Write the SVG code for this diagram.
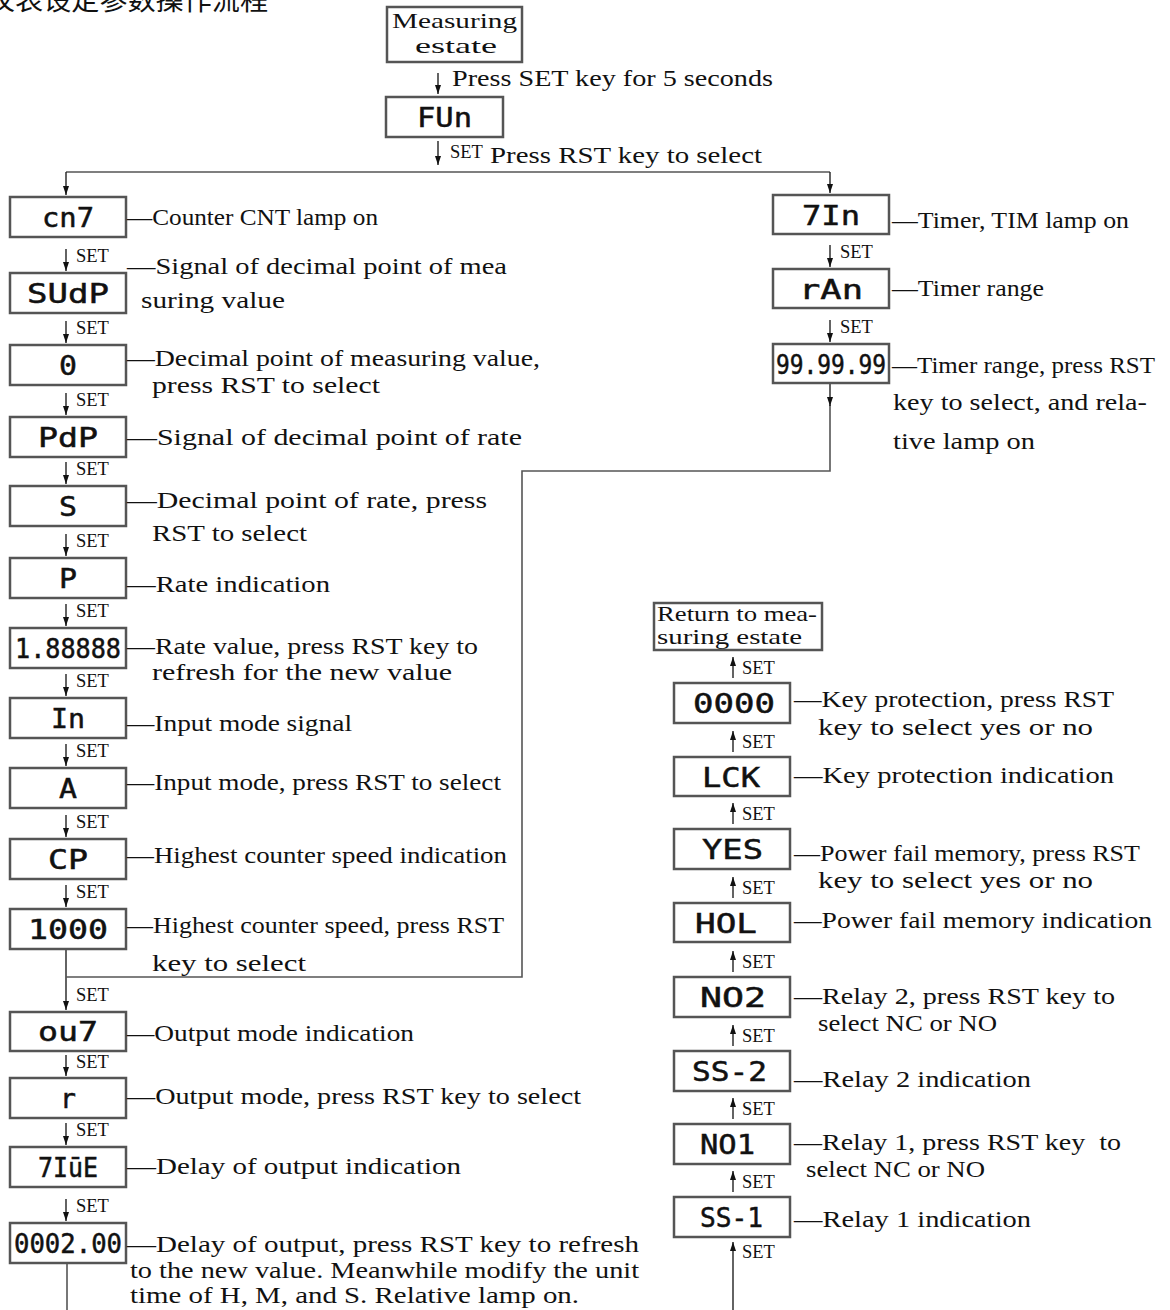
<svg xmlns="http://www.w3.org/2000/svg" width="1170" height="1310" viewBox="0 0 1170 1310">
<style>
.box{fill:#fff;stroke:#555;stroke-width:2.5}
.seg{font-family:"DejaVu Sans Mono",monospace;font-weight:normal;font-size:27px;fill:#111;stroke:#111;stroke-width:0.5}
.lbl{font-family:"Liberation Serif",serif;font-size:23px;fill:#111}
.big{font-family:"Liberation Serif",serif;font-size:22px;fill:#111}
.ret{font-family:"Liberation Serif",serif;font-size:21px;fill:#111}
.set{font-family:"Liberation Serif",serif;font-size:18.5px;fill:#111}
.ln{fill:none;stroke:#555;stroke-width:1.6}
.ar{fill:none;stroke:#222;stroke-width:1.4;marker-end:url(#ah)}
.cjk{font-family:"Noto Sans CJK SC",sans-serif;font-size:27px;fill:#111}
</style>
<defs>
<marker id="ah" viewBox="0 0 9 6" refX="9" refY="3" markerWidth="9" markerHeight="6" markerUnits="userSpaceOnUse" orient="auto"><path d="M0,0 L9,3 L0,6 Z" fill="#111"/></marker>
</defs>
<rect width="1170" height="1310" fill="#fff"/>
<text class="cjk" x="-13" y="10" textLength="281" lengthAdjust="spacingAndGlyphs">仪表设定参数操作流程</text>

<g id="connectors">
<line class="ar" x1="438" y1="73" x2="438" y2="94"/>
<text class="lbl" x="452" y="86" textLength="321" lengthAdjust="spacingAndGlyphs">Press SET key for 5 seconds</text>
<line class="ar" x1="438" y1="141" x2="438" y2="165"/>
<text class="set" x="450" y="158">SET</text>
<text class="lbl" x="490" y="163" textLength="272" lengthAdjust="spacingAndGlyphs">Press RST key to select</text>
<polyline class="ln" points="66,172 830,172"/>
<line class="ar" x1="66" y1="172" x2="66" y2="195"/>
<line class="ar" x1="830" y1="172" x2="830" y2="193"/>

<line class="ar" x1="66" y1="249" x2="66" y2="271"/><text class="set" x="76" y="262">SET</text>
<line class="ar" x1="66" y1="321" x2="66" y2="343"/><text class="set" x="76" y="334">SET</text>
<line class="ar" x1="66" y1="393" x2="66" y2="415"/><text class="set" x="76" y="406">SET</text>
<line class="ar" x1="66" y1="462" x2="66" y2="484"/><text class="set" x="76" y="475">SET</text>
<line class="ar" x1="66" y1="534" x2="66" y2="556"/><text class="set" x="76" y="547">SET</text>
<line class="ar" x1="66" y1="604" x2="66" y2="626"/><text class="set" x="76" y="617">SET</text>
<line class="ar" x1="66" y1="674" x2="66" y2="696"/><text class="set" x="76" y="687">SET</text>
<line class="ar" x1="66" y1="744" x2="66" y2="766"/><text class="set" x="76" y="757">SET</text>
<line class="ar" x1="66" y1="815" x2="66" y2="837"/><text class="set" x="76" y="828">SET</text>
<line class="ar" x1="66" y1="885" x2="66" y2="907"/><text class="set" x="76" y="898">SET</text>
<line class="ar" x1="66" y1="949" x2="66" y2="1010"/><text class="set" x="76" y="1001">SET</text>
<line class="ar" x1="66" y1="1055" x2="66" y2="1076"/><text class="set" x="76" y="1068">SET</text>
<line class="ar" x1="66" y1="1123" x2="66" y2="1145"/><text class="set" x="76" y="1136">SET</text>
<line class="ar" x1="66" y1="1199" x2="66" y2="1221"/><text class="set" x="76" y="1212">SET</text>
<line class="ln" x1="67" y1="1263" x2="67" y2="1310"/>

<polyline class="ln" points="66,977 522,977 522,471 830,471 830,405"/>
<line class="ar" x1="830" y1="384" x2="830" y2="406"/>

<line class="ar" x1="830" y1="245" x2="830" y2="267"/><text class="set" x="840" y="258">SET</text>
<line class="ar" x1="830" y1="320" x2="830" y2="342"/><text class="set" x="840" y="333">SET</text>

<line class="ar" x1="733" y1="678" x2="733" y2="657"/><text class="set" x="742" y="674">SET</text>
<line class="ar" x1="733" y1="752" x2="733" y2="731"/><text class="set" x="742" y="748">SET</text>
<line class="ar" x1="733" y1="824" x2="733" y2="803"/><text class="set" x="742" y="820">SET</text>
<line class="ar" x1="733" y1="898" x2="733" y2="877"/><text class="set" x="742" y="894">SET</text>
<line class="ar" x1="733" y1="972" x2="733" y2="951"/><text class="set" x="742" y="968">SET</text>
<line class="ar" x1="733" y1="1046" x2="733" y2="1025"/><text class="set" x="742" y="1042">SET</text>
<line class="ar" x1="733" y1="1119" x2="733" y2="1098"/><text class="set" x="742" y="1115">SET</text>
<line class="ar" x1="733" y1="1192" x2="733" y2="1171"/><text class="set" x="742" y="1188">SET</text>
<line class="ar" x1="733" y1="1310" x2="733" y2="1242"/><text class="set" x="742" y="1258">SET</text>
</g>

<g id="n-measuring"><rect class="box" x="387" y="7" width="135" height="55"/>
<text class="big" x="392" y="28" textLength="125" lengthAdjust="spacingAndGlyphs">Measuring</text>
<text class="big" x="415" y="53" textLength="82" lengthAdjust="spacingAndGlyphs">estate</text></g>
<g id="n-fun"><rect class="box" x="386" y="97" width="117" height="40"/><text class="seg" x="417" y="127" textLength="55" lengthAdjust="spacingAndGlyphs">FUn</text></g>

<g id="n-cnt"><rect class="box" x="10" y="197" width="116" height="40"/><text class="seg" x="42" y="227" textLength="52" lengthAdjust="spacingAndGlyphs">cn7</text>
<text class="lbl" x="127" y="225" textLength="251" lengthAdjust="spacingAndGlyphs">—Counter CNT lamp on</text></g>
<g id="n-sudp"><rect class="box" x="10" y="273" width="116" height="40"/><text class="seg" x="27" y="303" textLength="82" lengthAdjust="spacingAndGlyphs">SUdP</text>
<text class="lbl" x="127" y="274" textLength="380" lengthAdjust="spacingAndGlyphs">—Signal of decimal point of mea</text>
<text class="lbl" x="141" y="308" textLength="144" lengthAdjust="spacingAndGlyphs">suring value</text></g>
<g id="n-0"><rect class="box" x="10" y="345" width="116" height="40"/><text class="seg" x="59" y="375" textLength="18" lengthAdjust="spacingAndGlyphs">0</text>
<text class="lbl" x="127" y="366" textLength="413" lengthAdjust="spacingAndGlyphs">—Decimal point of measuring value,</text>
<text class="lbl" x="152" y="393" textLength="228" lengthAdjust="spacingAndGlyphs">press RST to select</text></g>
<g id="n-pdp"><rect class="box" x="10" y="417" width="116" height="40"/><text class="seg" x="38" y="447" textLength="60" lengthAdjust="spacingAndGlyphs">PdP</text>
<text class="lbl" x="127" y="445" textLength="395" lengthAdjust="spacingAndGlyphs">—Signal of decimal point of rate</text></g>
<g id="n-s"><rect class="box" x="10" y="486" width="116" height="40"/><text class="seg" x="59" y="516" textLength="18" lengthAdjust="spacingAndGlyphs">S</text>
<text class="lbl" x="127" y="508" textLength="360" lengthAdjust="spacingAndGlyphs">—Decimal point of rate, press</text>
<text class="lbl" x="152" y="541" textLength="155" lengthAdjust="spacingAndGlyphs">RST to select</text></g>
<g id="n-p"><rect class="box" x="10" y="558" width="116" height="40"/><text class="seg" x="59" y="588" textLength="18" lengthAdjust="spacingAndGlyphs">P</text>
<text class="lbl" x="127" y="592" textLength="203" lengthAdjust="spacingAndGlyphs">—Rate indication</text></g>
<g id="n-rate"><rect class="box" x="10" y="628" width="116" height="40"/><text class="seg" x="15" y="658" textLength="106" lengthAdjust="spacingAndGlyphs">1.88888</text>
<text class="lbl" x="127" y="654" textLength="351" lengthAdjust="spacingAndGlyphs">—Rate value, press RST key to</text>
<text class="lbl" x="152" y="680" textLength="300" lengthAdjust="spacingAndGlyphs">refresh for the new value</text></g>
<g id="n-in"><rect class="box" x="10" y="698" width="116" height="40"/><text class="seg" x="51" y="728" textLength="34" lengthAdjust="spacingAndGlyphs">In</text>
<text class="lbl" x="127" y="731" textLength="225" lengthAdjust="spacingAndGlyphs">—Input mode signal</text></g>
<g id="n-a"><rect class="box" x="10" y="768" width="116" height="40"/><text class="seg" x="59" y="798" textLength="18" lengthAdjust="spacingAndGlyphs">A</text>
<text class="lbl" x="127" y="790" textLength="374" lengthAdjust="spacingAndGlyphs">—Input mode, press RST to select</text></g>
<g id="n-cp"><rect class="box" x="10" y="839" width="116" height="40"/><text class="seg" x="48" y="869" textLength="40" lengthAdjust="spacingAndGlyphs">CP</text>
<text class="lbl" x="127" y="863" textLength="380" lengthAdjust="spacingAndGlyphs">—Highest counter speed indication</text></g>
<g id="n-1000"><rect class="box" x="10" y="909" width="116" height="40"/><text class="seg" x="28" y="939" textLength="80" lengthAdjust="spacingAndGlyphs">1000</text>
<text class="lbl" x="127" y="933" textLength="377" lengthAdjust="spacingAndGlyphs">—Highest counter speed, press RST</text>
<text class="lbl" x="152" y="971" textLength="154" lengthAdjust="spacingAndGlyphs">key to select</text></g>
<g id="n-out"><rect class="box" x="10" y="1012" width="116" height="39"/><text class="seg" x="38" y="1041" textLength="60" lengthAdjust="spacingAndGlyphs">ou7</text>
<text class="lbl" x="127" y="1041" textLength="287" lengthAdjust="spacingAndGlyphs">—Output mode indication</text></g>
<g id="n-r"><rect class="box" x="10" y="1078" width="116" height="40"/><text class="seg" x="60" y="1108" textLength="16" lengthAdjust="spacingAndGlyphs">r</text>
<text class="lbl" x="127" y="1104" textLength="454" lengthAdjust="spacingAndGlyphs">—Output mode, press RST key to select</text></g>
<g id="n-time"><rect class="box" x="10" y="1147" width="116" height="40"/><text class="seg" x="38" y="1177" textLength="60" lengthAdjust="spacingAndGlyphs">7IūE</text>
<text class="lbl" x="127" y="1174" textLength="334" lengthAdjust="spacingAndGlyphs">—Delay of output indication</text></g>
<g id="n-delay"><rect class="box" x="10" y="1223" width="116" height="40"/><text class="seg" x="14" y="1253" textLength="108" lengthAdjust="spacingAndGlyphs">0002.00</text>
<text class="lbl" x="127" y="1252" textLength="512" lengthAdjust="spacingAndGlyphs">—Delay of output, press RST key to refresh</text>
<text class="lbl" x="130" y="1278" textLength="509" lengthAdjust="spacingAndGlyphs">to the new value. Meanwhile modify the unit</text>
<text class="lbl" x="130" y="1303" textLength="449" lengthAdjust="spacingAndGlyphs">time of H, M, and S. Relative lamp on.</text></g>

<g id="n-tim"><rect class="box" x="773" y="195" width="116" height="39"/><text class="seg" x="802" y="225" textLength="58" lengthAdjust="spacingAndGlyphs">7In</text>
<text class="lbl" x="892" y="228" textLength="237" lengthAdjust="spacingAndGlyphs">—Timer, TIM lamp on</text></g>
<g id="n-ran"><rect class="box" x="773" y="269" width="116" height="39"/><text class="seg" x="799" y="299" textLength="64" lengthAdjust="spacingAndGlyphs">rAn</text>
<text class="lbl" x="892" y="296" textLength="152" lengthAdjust="spacingAndGlyphs">—Timer range</text></g>
<g id="n-range"><rect class="box" x="773" y="344" width="116" height="39"/><text class="seg" x="776" y="374" textLength="110" lengthAdjust="spacingAndGlyphs">99.99.99</text>
<text class="lbl" x="892" y="373" textLength="263" lengthAdjust="spacingAndGlyphs">—Timer range, press RST</text>
<text class="lbl" x="893" y="410" textLength="254" lengthAdjust="spacingAndGlyphs">key to select, and rela-</text>
<text class="lbl" x="893" y="449" textLength="142" lengthAdjust="spacingAndGlyphs">tive lamp on</text></g>

<g id="n-return"><rect class="box" x="654" y="603" width="168" height="47"/>
<text class="ret" x="657" y="621" textLength="160" lengthAdjust="spacingAndGlyphs">Return to mea-</text>
<text class="ret" x="657" y="644" textLength="145" lengthAdjust="spacingAndGlyphs">suring estate</text></g>
<g id="n-0000"><rect class="box" x="674" y="683" width="116" height="40"/><text class="seg" x="693" y="713" textLength="82" lengthAdjust="spacingAndGlyphs">0000</text>
<text class="lbl" x="794" y="707" textLength="320" lengthAdjust="spacingAndGlyphs">—Key protection, press RST</text>
<text class="lbl" x="818" y="735" textLength="275" lengthAdjust="spacingAndGlyphs">key to select yes or no</text></g>
<g id="n-lck"><rect class="box" x="674" y="757" width="116" height="39"/><text class="seg" x="702" y="787" textLength="58" lengthAdjust="spacingAndGlyphs">LCK</text>
<text class="lbl" x="794" y="783" textLength="320" lengthAdjust="spacingAndGlyphs">—Key protection indication</text></g>
<g id="n-yes"><rect class="box" x="674" y="829" width="116" height="40"/><text class="seg" x="702" y="859" textLength="61" lengthAdjust="spacingAndGlyphs">YES</text>
<text class="lbl" x="794" y="861" textLength="346" lengthAdjust="spacingAndGlyphs">—Power fail memory, press RST</text>
<text class="lbl" x="818" y="888" textLength="275" lengthAdjust="spacingAndGlyphs">key to select yes or no</text></g>
<g id="n-hol"><rect class="box" x="674" y="903" width="116" height="39"/><text class="seg" x="695" y="933" textLength="62" lengthAdjust="spacingAndGlyphs">HOL</text>
<text class="lbl" x="794" y="928" textLength="358" lengthAdjust="spacingAndGlyphs">—Power fail memory indication</text></g>
<g id="n-no2"><rect class="box" x="674" y="977" width="116" height="40"/><text class="seg" x="700" y="1007" textLength="66" lengthAdjust="spacingAndGlyphs">NO2</text>
<text class="lbl" x="794" y="1004" textLength="321" lengthAdjust="spacingAndGlyphs">—Relay 2, press RST key to</text>
<text class="lbl" x="818" y="1031" textLength="179" lengthAdjust="spacingAndGlyphs">select NC or NO</text></g>
<g id="n-ss2"><rect class="box" x="674" y="1051" width="116" height="40"/><text class="seg" x="692" y="1081" textLength="75" lengthAdjust="spacingAndGlyphs">SS-2</text>
<text class="lbl" x="794" y="1087" textLength="237" lengthAdjust="spacingAndGlyphs">—Relay 2 indication</text></g>
<g id="n-no1"><rect class="box" x="674" y="1124" width="116" height="40"/><text class="seg" x="700" y="1154" textLength="55" lengthAdjust="spacingAndGlyphs">NO1</text>
<text class="lbl" x="794" y="1150" textLength="327" lengthAdjust="spacingAndGlyphs" xml:space="preserve">—Relay 1, press RST key  to</text>
<text class="lbl" x="806" y="1177" textLength="179" lengthAdjust="spacingAndGlyphs">select NC or NO</text></g>
<g id="n-ss1"><rect class="box" x="674" y="1197" width="116" height="40"/><text class="seg" x="700" y="1227" textLength="63" lengthAdjust="spacingAndGlyphs">SS-1</text>
<text class="lbl" x="794" y="1227" textLength="237" lengthAdjust="spacingAndGlyphs">—Relay 1 indication</text></g>
</svg>
